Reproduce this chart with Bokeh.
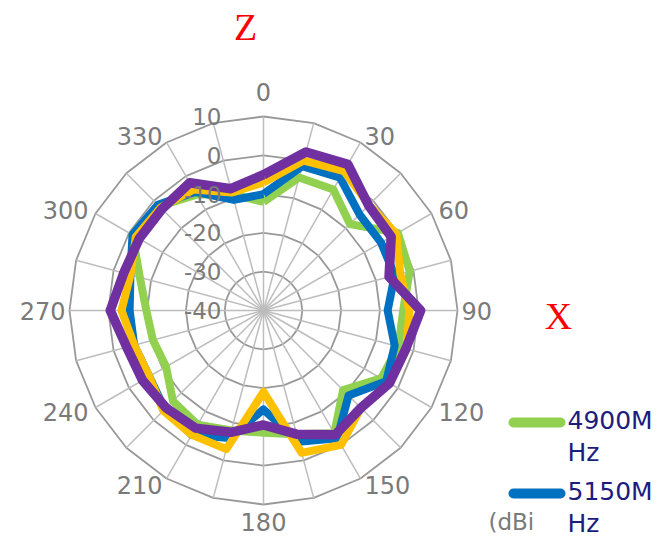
import numpy as np
from bokeh.plotting import figure
from bokeh.models import Range1d
from bokeh.core.properties import value
from bokeh.embed import file_html
from bokeh.resources import INLINE

# ---------------- data ----------------
angles = [0, 15, 30, 45, 60, 75, 90, 105, 120, 135, 150, 165,
          180, 195, 210, 225, 240, 255, 270, 285, 300, 315, 330, 345]
s4900 = [-12, -4.5, -4, -8.5, 0, -1, -4, -4, -5, -11, -3.5, -7,
         -8.5, -8, -6, -7, -11, -10.5, -9.8, -7, -1, -2, -5.5, -9]
s5150 = [-10, -1.5, -0.5, -5, -5, -5, -8, -5, -3.5, -9, -2, -5,
         -14.5, -6, -3, -4, -6, -5.5, -5.5, -4.5, -1, -1.5, -4.7, -10.5]
s_yellow = [-7, 0, 1.5, -1.5, -0.5, -3.5, -2.4, -1.8, -2.5, -4.5, 0, -2,
            -19, -3, -3, -3.5, -6, -5.5, -3.4, -4.5, -2, -2.5, -4, -8.5]
s_purple = [-5, 2.3, 3.5, -1.7, -2, -6.5, 0.5, -2, -2.5, -4.5, -3, -7,
            -10.5, -7.5, -5, -4.5, -4, -3.5, -0.5, -2.7, -3, -3, -2, -7.5]
ring_levels = [-40, -30, -20, -10, 0, 10]
ring_labels = ["-40", "-30", "-20", "-10", "0", "10"]
angle_ticks = [0, 30, 60, 90, 120, 150, 180, 210, 240, 270, 300, 330]
angle_labels = ["0", "30", "60", "90", "120", "150", "180", "210", "240", "270", "300", "330"]
legend_names = ["4900M\nHz", "5150M\nHz"]

series = [(s4900, "#92D050", 8), (s5150, "#0070C0", 8),
          (s_yellow, "#FFC000", 8), (s_purple, "#7030A0", 9.5)]

# ---------------- polar scale ----------------
RMIN = ring_levels[0]
SCALE = 3.88  # px per dB


def pol(deg, db):
    r = (np.asarray(db, dtype=float) - RMIN) * SCALE
    th = np.radians(np.asarray(deg, dtype=float))
    return r * np.sin(th), r * np.cos(th)


W, H = 653, 537
CXs, CYs = 263, 310  # centre in figure pixels
p = figure(width=W, height=H, output_backend="svg", toolbar_location=None,
           x_range=Range1d(-CXs, W - CXs), y_range=Range1d(CYs - H, CYs),
           min_border=0, outline_line_color=None,
           x_axis_location=None, y_axis_location=None)
p.grid.visible = False
p.background_fill_color = "white"

# grid rings (polygons)
ga = angles + [angles[0]]
rx, ry = [], []
for lv in ring_levels[1:]:
    x, y = pol(ga, [lv] * len(ga))
    rx.append(list(x)); ry.append(list(y))
p.multi_line(rx, ry, line_color="#999999", line_width=1.8)

# spokes
sx, sy = [], []
for a in angles:
    x, y = pol([a, a], [RMIN, ring_levels[-1]])
    sx.append(list(x)); sy.append(list(y))
p.multi_line(sx, sy, line_color="#BDBDBD", line_width=1.5)

# series
for vals, col, lw in series:
    x, y = pol(ga, vals + [vals[0]])
    p.line(x, y, line_color=col, line_width=lw, line_join="round")

# radial labels
font = value("DejaVu Sans")
ly = (np.array(ring_levels) - RMIN) * SCALE
p.text(x=[-42] * len(ly), y=ly, text=ring_labels, text_align="right",
       text_baseline="middle", text_font=font, text_font_size="23px",
       text_color="#7A7A7A")

# angle labels (gap in px beyond outer ring)
groups = {
    "top": ([0], "center", "bottom", 16),
    "left": ([30, 60, 120, 150], "left", "middle", 8),
    "left90": ([90], "left", "middle", 4),
    "bottom": ([180], "center", "top", 8),
    "right": ([210, 240, 300, 330], "right", "middle", 8),
    "right270": ([270], "right", "middle", 4),
}
for key, (angs, al, bl, gap) in groups.items():
    idx = [angle_ticks.index(a) for a in angs]
    x, y = pol(angs, [ring_levels[-1] + gap / SCALE] * len(angs))
    p.text(x=x, y=y, text=[angle_labels[i] for i in idx], text_align=al,
           text_baseline=bl, text_font=font, text_font_size="24px",
           text_color="#7A7A7A")

# legend (partially visible)
leg_y = [-112, -183]
for (vals, col, lw), yy, name in zip(series[:2], leg_y, legend_names):
    p.line([250, 297], [yy, yy], line_color=col, line_width=10, line_cap="round")
    p.text(x=[304], y=[yy + 17], text=[name], text_align="left",
           text_baseline="top", text_font=font, text_font_size="25px",
           text_color="#1C1C80", text_line_height=1.12)

p.text(x=[225], y=[-211], text=["(dBi"], text_align="left",
       text_baseline="middle", text_font=font, text_font_size="23px",
       text_color="#7A7A7A")

# axis markers
serif = value("Liberation Serif")
p.text(x=[-18], y=[284], text=["Z"], text_align="center", text_baseline="middle",
       text_font=serif, text_font_size="38px", text_color="#FF0000")
p.text(x=[295], y=[-5], text=["X"], text_align="center", text_baseline="middle",
       text_font=serif, text_font_size="38px", text_color="#FF0000")

open("out.html", "w").write(file_html(p, INLINE))
